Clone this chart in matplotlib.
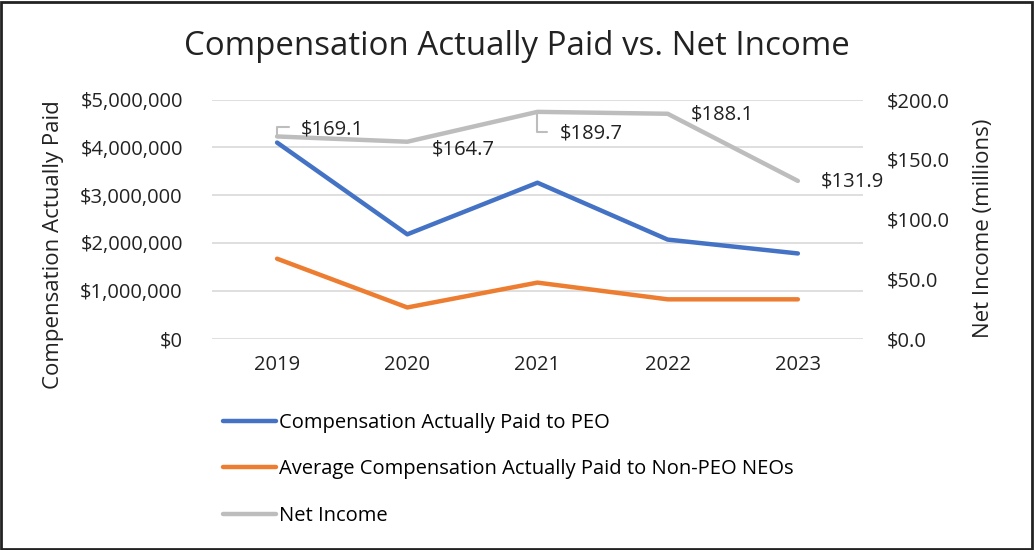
import matplotlib.pyplot as plt
from matplotlib.patches import Rectangle
from matplotlib.ticker import FuncFormatter

plt.rcParams['font.family'] = ['Open Sans', 'DejaVu Sans']

# data
years = ['2019', '2020', '2021', '2022', '2023']
cap_peo = [4100000, 2180000, 3260000, 2070000, 1780000]
cap_neo = [1670000, 650000, 1170000, 820000, 820000]
net_income = [169.1, 164.7, 189.7, 188.1, 131.9]

blue = '#4472C4'
orange = '#ED7D31'
gray = '#BDBDBD'
txt = '#222222'

fig = plt.figure(figsize=(10.34, 5.5), dpi=100)
ax = fig.add_axes([0.205, 0.3845, 0.6296, 0.4345])
ax2 = ax.twinx()

x = range(len(years))
l1, = ax.plot(x, cap_peo, color=blue, lw=3.2, solid_capstyle='round',
              label='Compensation Actually Paid to PEO')
l2, = ax.plot(x, cap_neo, color=orange, lw=3.2, solid_capstyle='round',
              label='Average Compensation Actually Paid to Non-PEO NEOs')
l3, = ax2.plot(x, net_income, color=gray, lw=3.2, solid_capstyle='round',
               label='Net Income')

ax.set_xlim(-0.5, 4.5)
ax.set_ylim(0, 5000000)
ax2.set_ylim(0, 200)
ax.set_yticks(range(0, 5000001, 1000000))
ax2.set_yticks(range(0, 201, 50))
ax.yaxis.set_major_formatter(FuncFormatter(lambda v, p: '${:,.0f}'.format(v)))
ax2.yaxis.set_major_formatter(FuncFormatter(lambda v, p: '${:.1f}'.format(v)))
ax.set_xticks(list(x))
ax.set_xticklabels(years)

ax.grid(axis='y', color='#D9D9D9', lw=1.2)
ax.set_axisbelow(True)
for a in (ax, ax2):
    for s in a.spines.values():
        s.set_visible(False)
    a.tick_params(length=0, labelsize=14.5, colors=txt)
ax.tick_params(axis='x', pad=12)
ax.tick_params(axis='y', pad=21)
ax2.tick_params(axis='y', pad=17)

fig.text(54 / 1034, 1 - 245 / 550, 'Compensation Actually Paid', rotation=90,
         fontsize=16, color=txt, ha='center', va='center')
fig.text(984 / 1034, 1 - 228 / 550, 'Net Income (millions)', rotation=90,
         fontsize=16, color=txt, ha='center', va='center')

fig.suptitle('Compensation Actually Paid vs. Net Income', fontsize=23.8,
             color=txt, y=0.945)

# data labels (pixel offsets, leader lines where the label sits away)
offsets = [(24, 7), (24, -8), (22, -22), (23, -1), (23, -1)]
leaders = [True, False, True, False, False]
for i, v in enumerate(net_income):
    kw = {}
    if leaders[i]:
        kw['arrowprops'] = dict(arrowstyle='-', color=gray, lw=1.5,
                                connectionstyle='angle,angleA=0,angleB=90,rad=0',
                                shrinkA=7, shrinkB=0, relpos=(0, 0.6))
    ax2.annotate('${:.1f}'.format(v), (i, v), xytext=offsets[i],
                 textcoords='offset pixels', fontsize=14.5, color=txt,
                 va='center', ha='left', **kw)

fig.legend(handles=[l1, l2, l3], loc='upper left', bbox_to_anchor=(0.206, 0.268),
           frameon=False, fontsize=14.5, handlelength=2.65, handletextpad=0.15,
           labelspacing=1.32, borderpad=0)

fig.patches.append(Rectangle((0.001, 0.002), 0.997, 0.995, transform=fig.transFigure,
                             fill=False, edgecolor='#222222', lw=2))

fig.savefig('out.png', dpi=100)
